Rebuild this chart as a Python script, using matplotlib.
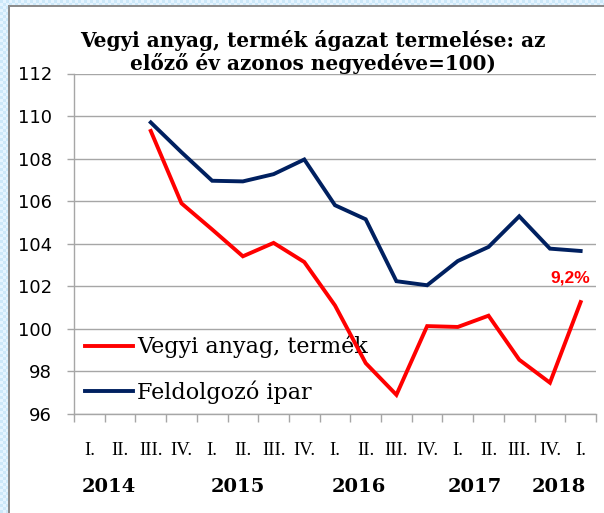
import numpy as np
import matplotlib
matplotlib.use("Agg")
import matplotlib.pyplot as plt
from matplotlib.lines import Line2D
import matplotlib.transforms as mtransforms

# ---- data ----
quarters = ["I.", "II.", "III.", "IV.", "I.", "II.", "III.", "IV.", "I.", "II.",
            "III.", "IV.", "I.", "II.", "III.", "IV.", "I."]
years = ["2014", "2015", "2016", "2017", "2018"]
year_pos = [1.12, 5.33, 9.27, 13.04, 15.78]
vegyi = [np.nan, np.nan, 109.3, 105.9, 104.67, 103.41, 104.04, 103.14, 101.1, 98.39,
         96.9, 100.13, 100.09, 100.62, 98.55, 97.47, 101.26]
feldolgozo = [np.nan, np.nan, 109.7, 108.3, 106.96, 106.93, 107.27, 107.96, 105.81, 105.15,
              102.24, 102.05, 103.19, 103.85, 105.29, 103.77, 103.66]
series_names = ["Vegyi anyag, termék", "Feldolgozó ipar"]
title = "Vegyi anyag, termék ágazat termelése: az\nelőző év azonos negyedéve=100)"
last_label = "9,2%"

W, H = 604, 513
fig = plt.figure(figsize=(W / 100, H / 100), dpi=100)
fig.patch.set_facecolor("white")

# decorative patterned frame (left and top strips)
pat = np.zeros((H, W, 4))
yy, xx = np.mgrid[0:H, 0:W]
checker = ((xx // 3 + yy // 3) % 2 == 0)
blue = np.array([0.80, 0.91, 0.98, 1.0])
light = np.array([0.90, 0.96, 1.0, 1.0])
mask_strip = (xx < 8) | (yy < 5)
pat[mask_strip & checker] = blue
pat[mask_strip & ~checker] = light
frame = ((xx >= 8) & (xx < 10) & (yy >= 5)) | ((yy >= 5) & (yy < 7) & (xx >= 8))
pat[frame] = np.array([0.55, 0.55, 0.55, 1.0])
fig.figimage(pat, xo=0, yo=0, origin="upper", zorder=0)

ax_l, ax_r, ax_t, ax_b = 74, 596, 73.5, 414
ax = fig.add_axes([ax_l / W, 1 - ax_b / H, (ax_r - ax_l) / W, (ax_b - ax_t) / H])
ax.patch.set_alpha(0)
ax.set_zorder(2)

n = len(quarters)
x = np.arange(n) + 0.5
red = "#ff0000"
navy = "#002060"
ax.plot(x, vegyi, color=red, lw=2.8, solid_joinstyle="miter", zorder=3)
ax.plot(x, feldolgozo, color=navy, lw=2.8, solid_joinstyle="miter", zorder=3)

ax.set_xlim(0, n)
ax.set_ylim(96, 112)
ax.set_yticks(np.arange(96, 113, 2))
ax.yaxis.grid(True, color="#a6a6a6", lw=1.0)
ax.set_axisbelow(True)

ax.set_xticks(np.arange(n + 1))
ax.set_xticklabels([])
ax.set_xticks(x, minor=True)
ax.set_xticklabels(quarters, minor=True, fontsize=13.5, family="Liberation Serif")
ax.tick_params(axis="x", which="major", direction="out", length=5.5, color="#a6a6a6", width=1)
ax.tick_params(axis="x", which="minor", length=0, pad=20)
ax.tick_params(axis="y", direction="out", length=5, color="#a6a6a6", width=1, pad=11,
               labelsize=13)
for lab in ax.get_yticklabels():
    lab.set_family("DejaVu Sans")

for s in ["top", "right"]:
    ax.spines[s].set_visible(False)
for s in ["left", "bottom"]:
    ax.spines[s].set_color("#a6a6a6")
    ax.spines[s].set_linewidth(1)

trans = mtransforms.blended_transform_factory(ax.transData, ax.transAxes)
for yr, p in zip(years, year_pos):
    ax.text(p, -0.215, yr, transform=trans, ha="center", va="center",
            fontsize=14, fontweight="bold", family="DejaVu Serif")

ax.annotate(last_label, xy=(x[-1], vegyi[-1]), xytext=(-10 * 0.72, 24 * 0.72),
            textcoords="offset points", ha="center", va="center", color=red,
            fontsize=12.5, fontweight="bold", family="Liberation Sans")

handles = [Line2D([], [], color=red, lw=2.8), Line2D([], [], color=navy, lw=2.8)]
leg = ax.legend(handles, series_names, loc="upper left",
                bbox_to_anchor=(85 / W, 1 - 335 / H), bbox_transform=fig.transFigure,
                frameon=False, prop={"family": "DejaVu Serif", "size": 16},
                handlelength=2.15, handletextpad=0.2, labelspacing=1.0,
                borderaxespad=0, borderpad=0)
leg.set_zorder(1)

fig.text(313 / W, 1 - 52 / H, title, ha="center", va="center", fontsize=14.4,
         fontweight="bold", family="DejaVu Serif", linespacing=1.1)

fig.savefig("out.png", dpi=100)
